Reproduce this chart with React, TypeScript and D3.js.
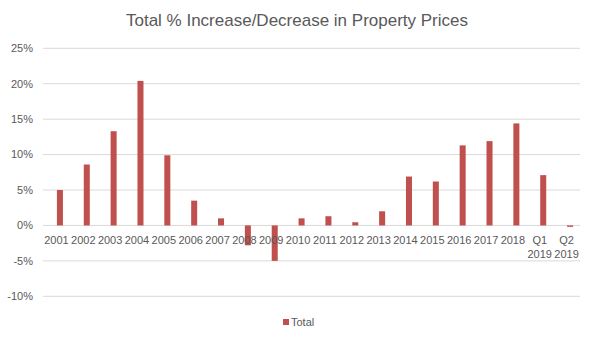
import React from "react";
import * as d3 from "d3";

const categories = ["2001","2002","2003","2004","2005","2006","2007","2008","2009","2010","2011","2012","2013","2014","2015","2016","2017","2018","Q1 2019","Q2 2019"];
const totals = [5.0, 8.6, 13.3, 20.4, 9.9, 3.5, 1.0, -2.8, -5.0, 1.0, 1.3, 0.45, 2.0, 6.9, 6.2, 11.3, 11.9, 14.4, 7.1, -0.2];
const yTicks = [-10, -5, 0, 5, 10, 15, 20, 25];
const seriesName = "Total";
const title = "Total % Increase/Decrease in Property Prices";

const W = 594, H = 339;
const M = { left: 43, right: 14, top: 48.3, bottom: 42.7 };
const BAR_SHIFT = 3.5;
const BAR = "#c0504d";
const TXT = "#595959";
const GRID = "#d9d9d9";
const FONT = "'Liberation Sans', Arial, sans-serif";

export default function App() {
  const x = d3.scaleBand<string>().domain(categories).range([M.left + BAR_SHIFT, W - M.right + BAR_SHIFT]).paddingInner(0.776).paddingOuter(0.388);
  const xb = d3.scaleBand<string>().domain(categories).range([M.left, W - M.right]);
  const y = d3.scaleLinear().domain([-10, 25]).range([H - M.bottom, M.top]);
  return (
    <div style={{ position: "absolute", left: 0, top: 0 }}>
      <svg width={W} height={H} style={{ display: "block", background: "#fff" }}>
        <text x={W / 2} y={26} textAnchor="middle" fontFamily={FONT} fontSize={17} fill={TXT}>{title}</text>
        {yTicks.map(t => (
          <g key={t}>
            <line x1={M.left} x2={W - M.right} y1={y(t)} y2={y(t)} stroke={GRID} strokeWidth={1} />
            <text x={33} y={y(t)} dy="0.35em" textAnchor="end" fontFamily={FONT} fontSize={11} fill={TXT}>{t}%</text>
          </g>
        ))}
        {categories.map((c, i) => {
          const v = totals[i];
          const y0 = y(0), y1 = y(v);
          return <rect key={c} x={x(c)} width={x.bandwidth()} y={Math.min(y0, y1)} height={Math.abs(y1 - y0)} fill={BAR} />;
        })}
        {categories.map(c => {
          const parts = c.split(" ");
          const cx = (xb(c) as number) + xb.bandwidth() / 2;
          return (
            <text key={c} x={cx} y={244} textAnchor="middle" fontFamily={FONT} fontSize={11} fill={TXT}>
              {parts.map((p, j) => <tspan key={j} x={cx} dy={j === 0 ? 0 : 14}>{p}</tspan>)}
            </text>
          );
        })}
        <rect x={283} y={319} width={6} height={6} fill={BAR} />
        <text x={291} y={322} dy="0.35em" fontFamily={FONT} fontSize={11} fill={TXT}>{seriesName}</text>
      </svg>
    </div>
  );
}
